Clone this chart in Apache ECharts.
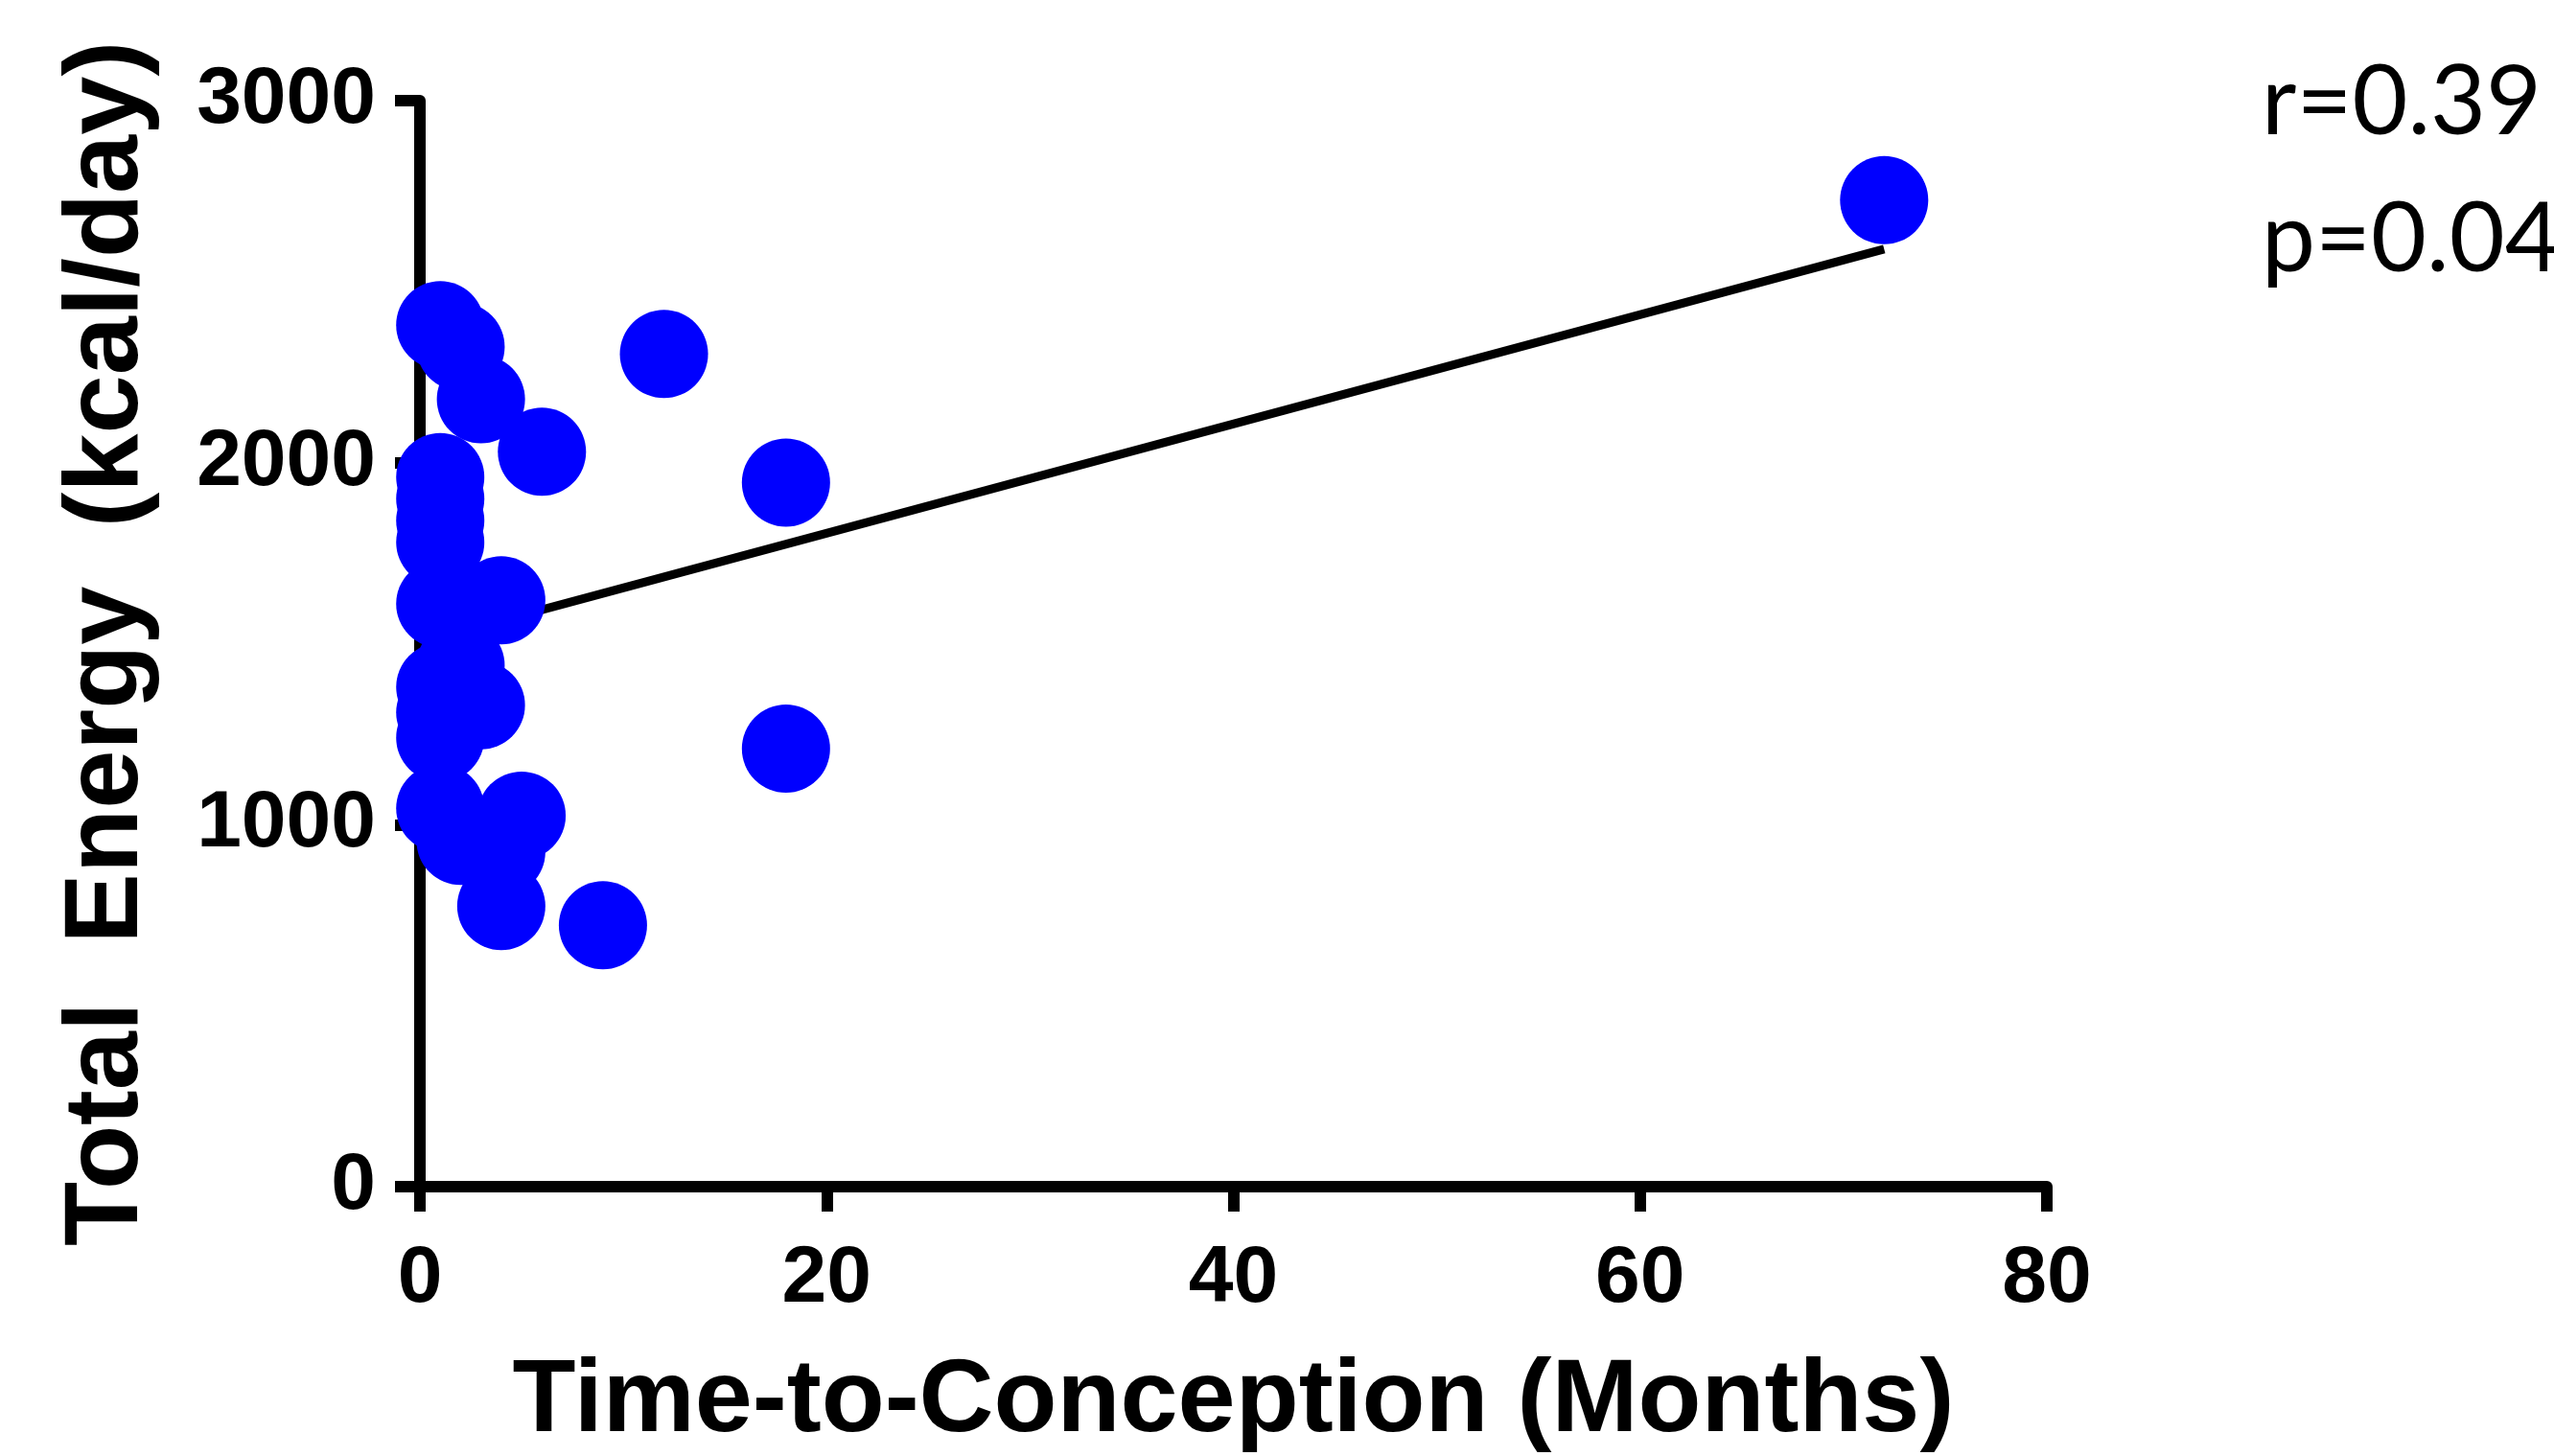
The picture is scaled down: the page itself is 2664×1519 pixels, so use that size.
<!DOCTYPE html>
<html>
<head>
<meta charset="utf-8">
<script src="https://cdn.jsdelivr.net/npm/echarts@6/dist/echarts.min.js"></script>
<style>
html,body{margin:0;padding:0;background:#fff;}
#chart{width:2664px;height:1519px;}
</style>
</head>
<body>
<div id="chart"></div>
<script>
// Time-to-Conception (months)
const ttcMonths = [1, 2, 3, 6, 12, 18, 1, 1, 1, 1, 1, 4, 2, 1, 3, 1, 1, 18, 1, 5, 2, 4, 4, 9, 72];
// Total energy (kcal/day)
const totalEnergy = [2380, 2320, 2175, 2030, 2300, 1945, 1960, 1900, 1840, 1780, 1610, 1620, 1440, 1380, 1330, 1310, 1240, 1210, 1045, 1025, 955, 925, 775, 722, 2725];
// Regression line end points
const fitX = [1, 72];
const fitY = [1518, 2590];
const xTicks = [0, 20, 40, 60, 80];
const yTicks = [0, 1000, 2000, 3000];
const statLines = ['r=0.39', 'p=0.04'];

const points = ttcMonths.map((x, i) => [x, totalEnergy[i]]);
const fitLine = fitX.map((x, i) => [x, fitY[i]]);

const chart = echarts.init(document.getElementById('chart'), null, {renderer: 'canvas'});
const axisFont = 'Liberation Sans, Arial, Helvetica, sans-serif';
chart.setOption({
  animation: false,
  backgroundColor: '#ffffff',
  grid: {left: 438, right: 529, top: 105, bottom: 281, containLabel: false, outerBoundsMode: 'none'},
  xAxis: {
    type: 'value',
    min: xTicks[0], max: xTicks[xTicks.length - 1], interval: xTicks[1] - xTicks[0],
    name: 'Time-to-Conception (Months)',
    nameLocation: 'middle',
    nameGap: 171,
    nameTextStyle: {fontSize: 108, fontWeight: 'bold', color: '#000', fontFamily: axisFont},
    axisLine: {show: true, lineStyle: {color: '#000', width: 12}},
    axisTick: {show: true, length: 26, lineStyle: {color: '#000', width: 12}},
    axisLabel: {fontSize: 84, fontWeight: 'bold', color: '#000', fontFamily: axisFont, margin: 55,
      formatter: v => String(v)},
    splitLine: {show: false}
  },
  yAxis: {
    type: 'value',
    min: yTicks[0], max: yTicks[yTicks.length - 1], interval: yTicks[1] - yTicks[0],
    name: 'Total  Energy  (kcal/day)',
    nameLocation: 'middle',
    nameGap: 270,
    nameRotate: 90,
    nameTextStyle: {fontSize: 110, fontWeight: 'bold', color: '#000', fontFamily: axisFont},
    axisLine: {show: true, lineStyle: {color: '#000', width: 12}},
    axisTick: {show: true, length: 26, lineStyle: {color: '#000', width: 12}},
    axisLabel: {fontSize: 84, fontWeight: 'bold', color: '#000', fontFamily: axisFont, margin: 46,
      formatter: v => String(v)},
    splitLine: {show: false}
  },
  graphic: statLines.map((t, i) => ({
    type: 'text',
    left: 2359,
    top: 58 + i * 143,
    style: {text: t, fontSize: 100, fontFamily: 'Lato, "Open Sans", sans-serif', fill: '#000'}
  })),
  series: [
    {
      type: 'line',
      data: fitLine,
      showSymbol: false,
      symbol: 'none',
      lineStyle: {color: '#000', width: 9},
      z: 1,
      silent: true
    },
    {
      type: 'scatter',
      data: points,
      symbol: 'circle',
      symbolSize: 92,
      itemStyle: {color: '#0000ff', opacity: 1},
      z: 2
    }
  ]
});
</script>
</body>
</html>
